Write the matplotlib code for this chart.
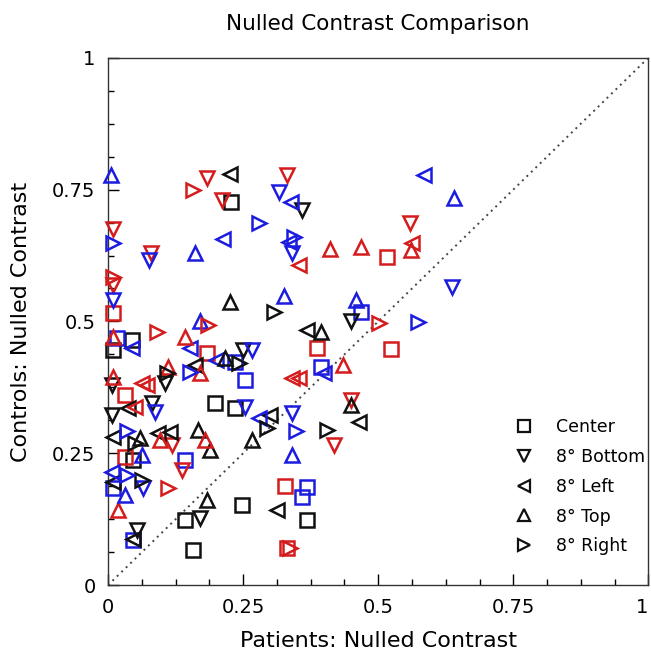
import matplotlib
matplotlib.use("Agg")
import matplotlib.pyplot as plt
import numpy as np
from matplotlib.ticker import MultipleLocator

# group codes: k = black, r = red, b = blue
center_x = [0.227, 0.044, 0.010, 0.197, 0.234, 0.046, 0.142, 0.157, 0.247, 0.369,
            0.010, 0.183, 0.031, 0.386, 0.524, 0.517, 0.031, 0.327, 0.332,
            0.017, 0.234, 0.253, 0.395, 0.469, 0.142, 0.010, 0.046, 0.369, 0.358]
center_y = [0.727, 0.465, 0.446, 0.345, 0.336, 0.237, 0.123, 0.066, 0.152, 0.123,
            0.516, 0.440, 0.360, 0.450, 0.448, 0.622, 0.243, 0.188, 0.070,
            0.469, 0.423, 0.389, 0.414, 0.518, 0.237, 0.184, 0.085, 0.186, 0.167]
center_g = list("kkkkkkkkkk") + list("rrrrrrrrr") + list("bbbbbbbbbb")

bottom_x = [0.358, 0.249, 0.450, 0.105, 0.081, 0.007, 0.007, 0.170, 0.054,
            0.183, 0.210, 0.332, 0.559, 0.010, 0.079, 0.010, 0.450, 0.118, 0.137, 0.419,
            0.317, 0.076, 0.341, 0.010, 0.266, 0.087, 0.253, 0.341, 0.065, 0.637]
bottom_y = [0.712, 0.446, 0.500, 0.383, 0.345, 0.380, 0.323, 0.127, 0.104,
            0.772, 0.730, 0.778, 0.687, 0.675, 0.630, 0.570, 0.351, 0.266, 0.218, 0.266,
            0.746, 0.617, 0.630, 0.540, 0.446, 0.328, 0.338, 0.326, 0.184, 0.565]
bottom_g = list("kkkkkkkkk") + list("rrrrrrrrrrr") + list("bbbbbbbbbb")

left_x = [0.225, 0.160, 0.369, 0.037, 0.299, 0.465, 0.010, 0.092, 0.114, 0.010, 0.046, 0.312,
          0.354, 0.563, 0.063, 0.072, 0.050, 0.341, 0.354,
          0.585, 0.339, 0.334, 0.212, 0.044, 0.151, 0.200, 0.400, 0.280, 0.007]
left_y = [0.780, 0.417, 0.484, 0.336, 0.323, 0.309, 0.281, 0.288, 0.290, 0.195, 0.087, 0.142,
          0.607, 0.649, 0.383, 0.380, 0.338, 0.393, 0.393,
          0.778, 0.727, 0.651, 0.656, 0.450, 0.450, 0.427, 0.402, 0.317, 0.214]
left_g = list("kkkkkkkkkkkk") + list("rrrrrrr") + list("bbbbbbbbbb")

top_x = [0.225, 0.216, 0.395, 0.450, 0.059, 0.166, 0.188, 0.266, 0.183,
         0.410, 0.469, 0.561, 0.010, 0.142, 0.111, 0.170, 0.434, 0.096, 0.179, 0.018, 0.010,
         0.005, 0.160, 0.640, 0.325, 0.459, 0.170, 0.063, 0.031, 0.341]
top_y = [0.537, 0.431, 0.480, 0.342, 0.279, 0.294, 0.256, 0.275, 0.161,
         0.638, 0.641, 0.636, 0.470, 0.471, 0.414, 0.402, 0.417, 0.275, 0.275, 0.142, 0.395,
         0.778, 0.630, 0.734, 0.548, 0.541, 0.500, 0.247, 0.171, 0.247]
top_g = list("kkkkkkkkk") + list("rrrrrrrrrrrr") + list("bbbbbbbbb")

right_x = [0.308, 0.243, 0.109, 0.050, 0.063, 0.295, 0.406,
           0.157, 0.010, 0.185, 0.090, 0.502, 0.111, 0.336,
           0.280, 0.345, 0.010, 0.151, 0.574, 0.035, 0.035, 0.348]
right_y = [0.518, 0.421, 0.402, 0.269, 0.199, 0.298, 0.294,
           0.750, 0.585, 0.493, 0.480, 0.497, 0.184, 0.070,
           0.687, 0.660, 0.649, 0.404, 0.499, 0.292, 0.209, 0.292]
right_g = list("kkkkkkk") + list("rrrrrrr") + list("bbbbbbbb")

legend_labels = ["Center", "8\u00b0 Bottom", "8\u00b0 Left", "8\u00b0 Top", "8\u00b0 Right"]
tick_vals = [0, 0.25, 0.5, 0.75, 1]
tick_labels = ["0", "0.25", "0.5", "0.75", "1"]

colors = {"k": "#111111", "r": "#d41c1c", "b": "#1c1ce0"}

fig = plt.figure(figsize=(6.51, 6.56), dpi=100)
ax = fig.add_axes([0.166, 0.108, 0.830, 0.804])

series = [(center_x, center_y, center_g, "s"),
          (bottom_x, bottom_y, bottom_g, "v"),
          (left_x, left_y, left_g, "<"),
          (top_x, top_y, top_g, "^"),
          (right_x, right_y, right_g, ">")]

for xs, ys, gs, m in series:
    for g in ["k", "r", "b"]:
        px = [x for x, gg in zip(xs, gs) if gg == g]
        py = [y for y, gg in zip(ys, gs) if gg == g]
        ax.plot(px, py, linestyle="none", marker=m, markersize=10,
                markerfacecolor="none", markeredgecolor=colors[g], markeredgewidth=1.8,
                clip_on=False, zorder=3)

ax.plot([0, 1], [0, 1], linestyle=(0, (1, 2.2)), color="#444444", linewidth=1.4, zorder=2)

handles = []
for (xs, ys, gs, m), lab in zip(series, legend_labels):
    h, = ax.plot([], [], linestyle="none", marker=m, markersize=9,
                 markerfacecolor="none", markeredgecolor="#111111", markeredgewidth=1.6,
                 label=lab)
    handles.append(h)
ax.legend(handles=handles, loc="lower left", frameon=False, fontsize=12.5,
          handletextpad=0.85, labelspacing=0.68, borderpad=0,
          bbox_to_anchor=(0.722, 0.04))

ax.set_xlim(0, 1)
ax.set_ylim(0, 1)
ax.set_xticks(tick_vals)
ax.set_xticklabels(tick_labels)
ax.set_yticks(tick_vals)
ax.set_yticklabels(tick_labels)
ax.get_xticklabels()[-1].set_horizontalalignment("right")
ax.xaxis.set_minor_locator(MultipleLocator(0.0625))
ax.yaxis.set_minor_locator(MultipleLocator(0.0625))
ax.tick_params(which="major", direction="in", length=8, width=1, labelsize=14, pad=9)
ax.tick_params(which="minor", direction="in", length=4, width=1)
ax.tick_params(top=False, right=False, which="both")
for s in ax.spines.values():
    s.set_linewidth(1.0)
    s.set_color("#333333")

ax.set_xlabel("Patients: Nulled Contrast", fontsize=16, labelpad=10)
ax.set_ylabel("Controls: Nulled Contrast", fontsize=16, labelpad=15)
ax.set_title("Nulled Contrast Comparison", fontsize=15.5, pad=20)

fig.savefig("out.png", dpi=100)
